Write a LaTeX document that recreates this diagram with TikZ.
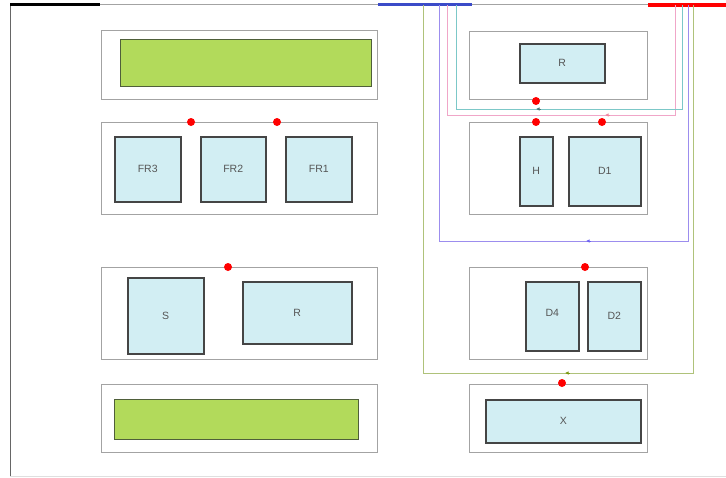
\documentclass[tikz,border=0pt]{standalone}
\usepackage{fontspec}
\setmainfont{Liberation Sans}
\usetikzlibrary{arrows.meta}

\definecolor{panelgray}{HTML}{A3A3A3}
\definecolor{unitedge}{HTML}{454545}
\definecolor{unitfill}{HTML}{D2EEF3}
\definecolor{unittext}{HTML}{555555}
\definecolor{baredge}{HTML}{4F5F3A}
\definecolor{barfill}{HTML}{B2DA5B}
\definecolor{busblue}{HTML}{3B4BC8}
\definecolor{oliveln}{HTML}{AFC27A}
\definecolor{purpleln}{HTML}{9C8DEE}
\definecolor{pinkln}{HTML}{F0A6C8}
\definecolor{tealln}{HTML}{7CC8C8}

\tikzset{
  panel/.style={draw=panelgray, fill=white, line width=0.8pt, inner sep=0pt,
    anchor=north west, rectangle},
  unit/.style={draw=unitedge, fill=unitfill, line width=1.5pt, inner sep=0pt,
    anchor=north west, rectangle, text=unittext, font=\fontsize{10.5}{12}\selectfont},
  greenbar/.style={draw=baredge, fill=barfill, line width=1pt, inner sep=0pt,
    anchor=north west, rectangle},
  port/.style={circle, fill=red, draw=none, inner sep=0pt, minimum size=8pt},
  wire/.style={line width=1pt},
  tipmark/.style={-{Latex[length=3.5pt,width=3.5pt]}, line width=0.6pt},
}

\begin{document}
\begin{tikzpicture}[x=1pt, y=-1pt]
\useasboundingbox (0,0) rectangle (726,477);

% frame and buses along the top
\draw[panelgray, line width=0.8pt] (10,4) -- (726,4);
\draw[gray!80!black, line width=1pt] (10,4) -- (10,476);
\draw[gray!25, line width=0.6pt] (10,476) -- (726,476);
\draw[black, line width=2.6pt] (10,4.5) -- (100,4.5);
\draw[busblue, line width=3pt] (378,4.5) -- (472,4.5);
\draw[red, line width=3.4pt] (648,5) -- (726,5);

% left column
\node[panel, minimum width=276pt, minimum height=69pt] (p1) at (101,30) {};
\node[greenbar, minimum width=251pt, minimum height=47pt] (g1) at (120,39) {};

\node[panel, minimum width=276pt, minimum height=92pt] (p2) at (101,122) {};
\node[unit, minimum width=66pt, minimum height=65pt] (fr3) at (114,136) {FR3};
\node[unit, minimum width=65pt, minimum height=65pt] (fr2) at (200,136) {FR2};
\node[unit, minimum width=66pt, minimum height=65pt] (fr1) at (285,136) {FR1};

\node[panel, minimum width=276pt, minimum height=92pt] (p3) at (101,267) {};
\node[unit, minimum width=76pt, minimum height=76pt] (s) at (127,277) {S};
\node[unit, minimum width=109pt, minimum height=62pt] (rl) at (242,281) {R};

\node[panel, minimum width=276pt, minimum height=68pt] (p4) at (101,384) {};
\node[greenbar, minimum width=244pt, minimum height=40pt] (g2) at (114,399) {};

% right column
\node[panel, minimum width=178pt, minimum height=68pt] (q1) at (469,31) {};
\node[unit, minimum width=85pt, minimum height=39pt] (rr) at (519,43) {R};

\node[panel, minimum width=178pt, minimum height=92pt] (q2) at (469,122) {};
\node[unit, minimum width=33pt, minimum height=69pt] (h) at (519,136) {H};
\node[unit, minimum width=72pt, minimum height=69pt] (d1) at (568,136) {D1};

\node[panel, minimum width=178pt, minimum height=92pt] (q3) at (469,267) {};
\node[unit, minimum width=53pt, minimum height=69pt] (d4) at (525,281) {\raisebox{6pt}{D4}};
\node[unit, minimum width=53pt, minimum height=69pt] (d2) at (587,281) {D2};

\node[panel, minimum width=178pt, minimum height=68pt] (q4) at (469,384) {};
\node[unit, minimum width=155pt, minimum height=43pt] (x) at (485,399) {X};

% loop wires between the blue and the red bus
\coordinate (oA) at (423,5);   \coordinate (oB) at (693,5);
\coordinate (uA) at (439,5);   \coordinate (uB) at (688,5);
\coordinate (kA) at (447,5);   \coordinate (kB) at (675,5);
\coordinate (tA) at (456,5);   \coordinate (tB) at (682,5);

\draw[wire, oliveln]  (oA) |- (693,373) coordinate (oC) -- (oB);
\draw[wire, purpleln] (uA) |- (688,241) coordinate (uC) -- (uB);
\draw[wire, pinkln]   (kA) |- (675,115) coordinate (kC) -- (kB);
\draw[wire, tealln]   (tA) |- (682,109) coordinate (tC) -- (tB);

% flow markers on the loops
\draw[tipmark, olive!70!green] (570,373) -- (565,373);
\draw[tipmark, purpleln!70!blue] (591,241) -- (586,241);
\draw[tipmark, pinkln!80!red] (610,115) -- (605,115);
\draw[tipmark, tealln!60!black] (541,109) -- (536,109);

% ports
\node[port] (pa) at (191,122) {};
\node[port] (pb) at (277,122) {};
\node[port] (pc) at (228,267) {};
\node[port] (pd) at (536,101) {};
\node[port] (pe) at (536,122) {};
\node[port] (pf) at (602,122) {};
\node[port] (pg) at (585,267) {};
\node[port] (ph) at (562,383) {};
\end{tikzpicture}
\end{document}
